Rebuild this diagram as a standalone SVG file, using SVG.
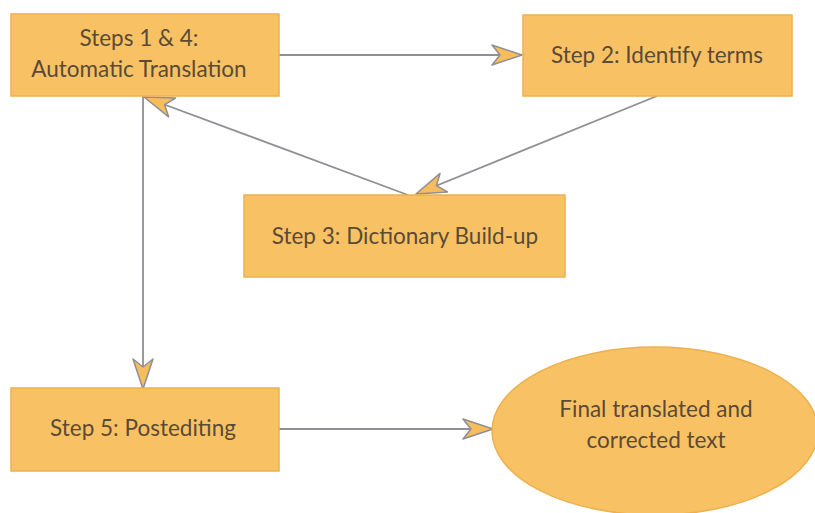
<svg xmlns="http://www.w3.org/2000/svg" width="815" height="513" viewBox="0 0 815 513">
<style>
.box{fill:#F8C264;stroke:#EDB04E;stroke-width:1.5}
.lbl{font-family:Lato,"Liberation Sans",sans-serif;font-size:22.5px;fill:#5b4a36;text-anchor:middle}
.conn{stroke:#8f8f94;stroke-width:1.8;fill:none}
</style>
<defs>
<marker id="ah" markerUnits="userSpaceOnUse" markerWidth="34" markerHeight="24" refX="31" refY="11" orient="auto" viewBox="0 0 34 22">
<path d="M1,1 L31,11 L1,21 L9,11 Z" fill="#F7BD5C" stroke="#8f8f94" stroke-width="1.5" stroke-linejoin="round"/>
</marker>
</defs>
<rect width="815" height="513" fill="#ffffff"/>
<g id="connectors">
<line class="conn" x1="279" y1="55" x2="522" y2="55" marker-end="url(#ah)"/>
<line class="conn" x1="657" y1="96" x2="416" y2="194" marker-end="url(#ah)"/>
<line class="conn" x1="408" y1="195" x2="144" y2="97" marker-end="url(#ah)"/>
<line class="conn" x1="143" y1="96" x2="143" y2="389" marker-end="url(#ah)"/>
<line class="conn" x1="279" y1="429" x2="493" y2="429" marker-end="url(#ah)"/>
</g>
<g id="step14">
<rect class="box" x="11" y="14" width="268" height="82"/>
<text class="lbl" x="139" y="46">Steps 1 &amp; 4:</text>
<text class="lbl" x="139" y="77">Automatic Translation</text>
</g>
<g id="step2">
<rect class="box" x="523" y="15" width="269" height="81"/>
<text class="lbl" x="657" y="63">Step 2: Identify terms</text>
</g>
<g id="step3">
<rect class="box" x="244" y="195" width="321" height="82"/>
<text class="lbl" x="405" y="244">Step 3: Dictionary Build-up</text>
</g>
<g id="step5">
<rect class="box" x="11" y="388" width="268" height="83"/>
<text class="lbl" x="143" y="436">Step 5: Postediting</text>
</g>
<g id="final">
<ellipse class="box" cx="655" cy="431" rx="163" ry="84"/>
<text class="lbl" x="656" y="417">Final translated and</text>
<text class="lbl" x="656" y="448">corrected text</text>
</g>
</svg>
